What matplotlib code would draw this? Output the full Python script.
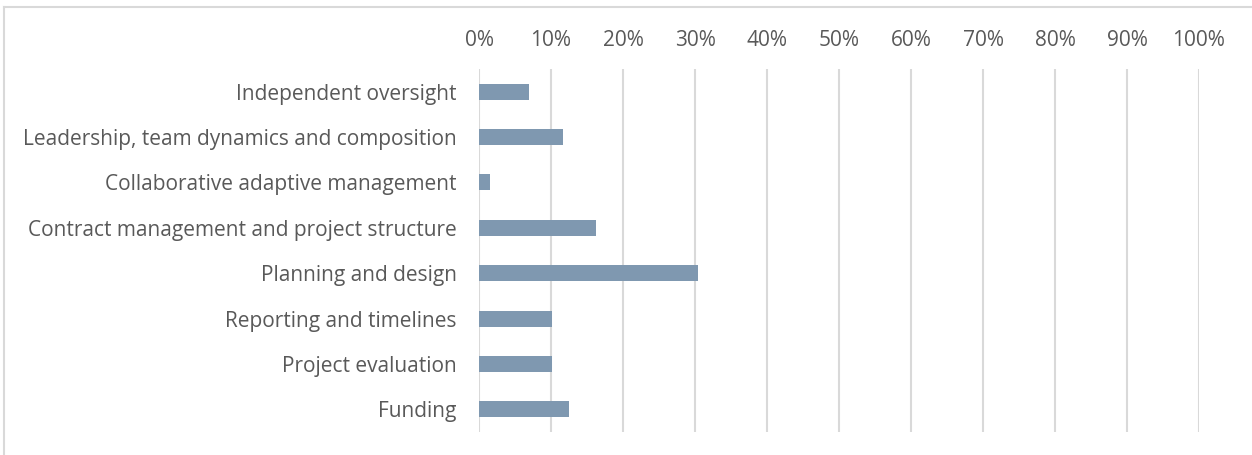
import matplotlib
matplotlib.use("Agg")
import matplotlib.pyplot as plt
from matplotlib.lines import Line2D
from matplotlib.ticker import PercentFormatter

categories = [
    "Independent oversight",
    "Leadership, team dynamics and composition",
    "Collaborative adaptive management",
    "Contract management and project structure",
    "Planning and design",
    "Reporting and timelines",
    "Project evaluation",
    "Funding",
]
values = [6.9, 11.6, 1.5, 16.3, 30.4, 10.1, 10.1, 12.5]
xticks = list(range(0, 101, 10))

plt.rcParams["font.family"] = ["Open Sans", "DejaVu Sans"]

fig = plt.figure(figsize=(12.52, 4.55), dpi=100)
ax = fig.add_axes([479/1252, 1 - 432/455, 720/1252, 363/455])

y = list(range(len(categories)))
ax.barh(y, values, height=0.35, color="#7f98b0", zorder=3)

ax.set_xlim(0, 100)
ax.set_ylim(len(categories) - 0.5, -0.5)
ax.set_yticks(y)
ax.set_yticklabels(categories, fontsize=15, color="#595959")
ax.set_xticks(xticks)
ax.xaxis.set_major_formatter(PercentFormatter(decimals=0))
ax.xaxis.tick_top()
ax.tick_params(axis="x", length=0, pad=13, labelsize=15, labelcolor="#595959")
ax.tick_params(axis="y", length=0, pad=16)
ax.grid(axis="x", color="#d9d9d9", linewidth=1.5, zorder=0)
for s in ax.spines.values():
    s.set_visible(False)

# chart-area border: only top and left edges are visible in the crop
fig.lines.append(Line2D([4/1252, 4/1252], [0, 1 - 7/455], transform=fig.transFigure,
                        color="#d9d9d9", linewidth=1.5))
fig.lines.append(Line2D([4/1252, 1], [1 - 7/455, 1 - 7/455], transform=fig.transFigure,
                        color="#d9d9d9", linewidth=1.5))

fig.savefig("out.png", dpi=100)
